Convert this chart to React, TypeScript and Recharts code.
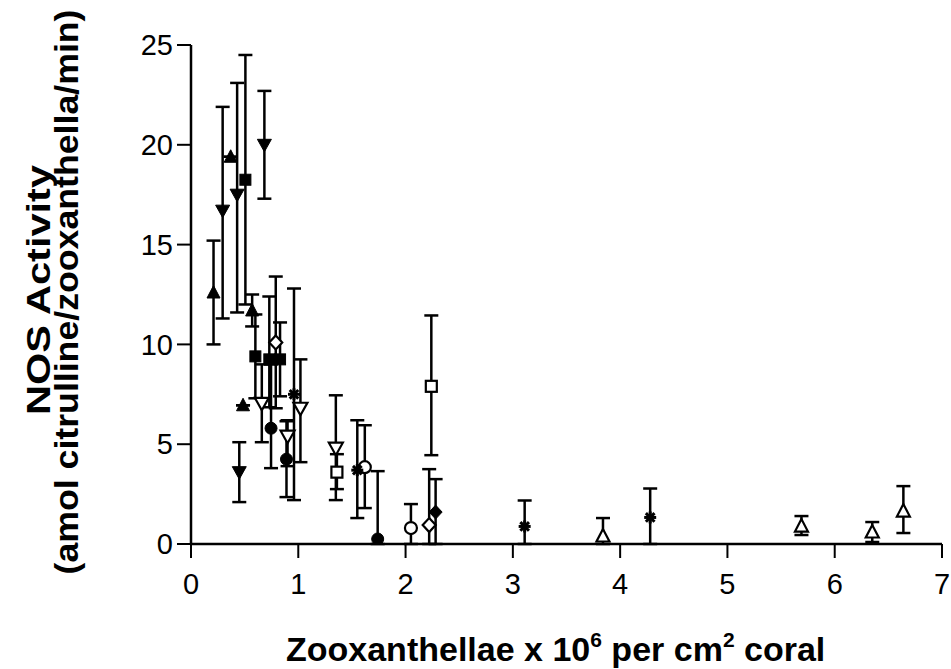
import React from "react";
import { ErrorBar, Label, Scatter, ScatterChart, XAxis, YAxis } from "recharts";

// x = zooxanthellae (x10^6 / cm2), y = NOS activity, lo/hi = error
const filledUpX = [0.21, 0.37, 0.485, 0.57];
const filledUpY = [12.6, 19.4, 6.95, 11.7];
const filledUpLo = [2.6, 0, 0, 0.8];
const filledUpHi = [2.6, 0, 0, 0.8];

const filledDownX = [0.295, 0.43, 0.684, 0.45];
const filledDownY = [16.7, 17.5, 20.0, 3.6];
const filledDownLo = [5.4, 5.9, 2.7, 1.5];
const filledDownHi = [5.2, 5.6, 2.7, 1.5];

const filledSquareX = [0.507, 0.6, 0.73, 0.83];
const filledSquareY = [18.25, 9.4, 9.25, 9.25];
const filledSquareLo = [6.25, 2.1, 2.4, 1.85];
const filledSquareHi = [6.25, 2.1, 3.15, 1.85];

const filledCircleX = [0.746, 0.89, 1.74];
const filledCircleY = [5.8, 4.25, 0.25];
const filledCircleLo = [2.0, 1.9, 0.25];
const filledCircleHi = [3.2, 1.9, 3.4];

const filledDiamondX = [2.28];
const filledDiamondY = [1.6];
const filledDiamondLo = [1.6];
const filledDiamondHi = [1.65];

const openDownX = [0.66, 0.9, 1.02, 1.35];
const openDownY = [7.05, 5.4, 6.8, 4.8];
const openDownLo = [1.95, 1.5, 2.7, 2.6];
const openDownHi = [1.95, 0.8, 2.45, 2.65];

const openUpX = [3.84, 5.69, 6.35, 6.64];
const openUpY = [0.4, 0.9, 0.6, 1.65];
const openUpLo = [0.4, 0.45, 0.5, 1.1];
const openUpHi = [0.9, 0.5, 0.5, 1.25];

const openSquareX = [1.36, 2.24];
const openSquareY = [3.6, 7.9];
const openSquareLo = [0.85, 3.45];
const openSquareHi = [0.9, 3.55];

const openCircleX = [1.62, 2.05];
const openCircleY = [3.85, 0.8];
const openCircleLo = [2.05, 0.8];
const openCircleHi = [2.1, 1.2];

const openDiamondX = [0.79, 2.22];
const openDiamondY = [10.1, 0.95];
const openDiamondLo = [3.3, 0.95];
const openDiamondHi = [3.3, 2.8];

const starX = [0.96, 1.55, 3.11, 4.28];
const starY = [7.5, 3.7, 0.88, 1.33];
const starLo = [5.3, 2.4, 0.88, 1.33];
const starHi = [5.3, 2.5, 1.3, 1.45];

const xTicks = [0, 1, 2, 3, 4, 5, 6, 7];
const yTicks = [0, 5, 10, 15, 20, 25];

const FONT = "'Liberation Sans', Arial, Helvetica, sans-serif";

function rows(xs: number[], ys: number[], lo: number[], hi: number[]) {
  return xs.map((x, i) => ({ x, y: ys[i], err: [Math.min(lo[i], ys[i]), hi[i]] }));
}

type Kind =
  | "upFill"
  | "downFill"
  | "squareFill"
  | "circleFill"
  | "diamondFill"
  | "downOpen"
  | "upOpen"
  | "squareOpen"
  | "circleOpen"
  | "diamondOpen"
  | "star";

function marker(kind: Kind) {
  return (p: any) => {
    const { cx, cy } = p;
    if (cx == null || cy == null) return <g />;
    const open = kind.endsWith("Open");
    const fill = open ? "#fff" : "#000";
    const common = { fill, stroke: "#000", strokeWidth: open ? 2.2 : 1 };
    if (kind === "upFill" || kind === "upOpen") {
      return <polygon points={`${cx},${cy - 7} ${cx - 6.5},${cy + 5.5} ${cx + 6.5},${cy + 5.5}`} {...common} />;
    }
    if (kind === "downFill" || kind === "downOpen") {
      return <polygon points={`${cx},${cy + 7} ${cx - 7},${cy - 5.5} ${cx + 7},${cy - 5.5}`} {...common} />;
    }
    if (kind === "squareFill" || kind === "squareOpen") {
      return <rect x={cx - 5.5} y={cy - 5.5} width={11} height={11} {...common} />;
    }
    if (kind === "circleFill" || kind === "circleOpen") {
      return <circle cx={cx} cy={cy} r={6} {...common} />;
    }
    if (kind === "diamondFill" || kind === "diamondOpen") {
      return <polygon points={`${cx},${cy - 7} ${cx + 6.5},${cy} ${cx},${cy + 7} ${cx - 6.5},${cy}`} {...common} />;
    }
    const r = 6;
    const d = r * 0.72;
    return (
      <g stroke="#000" strokeWidth={3}>
        <line x1={cx - r} y1={cy} x2={cx + r} y2={cy} />
        <line x1={cx} y1={cy - r} x2={cx} y2={cy + r} />
        <line x1={cx - d} y1={cy - d} x2={cx + d} y2={cy + d} />
        <line x1={cx - d} y1={cy + d} x2={cx + d} y2={cy - d} />
      </g>
    );
  };
}

const series: { kind: Kind; data: { x: number; y: number; err: number[] }[] }[] = [
  { kind: "upFill", data: rows(filledUpX, filledUpY, filledUpLo, filledUpHi) },
  { kind: "downFill", data: rows(filledDownX, filledDownY, filledDownLo, filledDownHi) },
  { kind: "squareFill", data: rows(filledSquareX, filledSquareY, filledSquareLo, filledSquareHi) },
  { kind: "circleFill", data: rows(filledCircleX, filledCircleY, filledCircleLo, filledCircleHi) },
  { kind: "diamondFill", data: rows(filledDiamondX, filledDiamondY, filledDiamondLo, filledDiamondHi) },
  { kind: "downOpen", data: rows(openDownX, openDownY, openDownLo, openDownHi) },
  { kind: "upOpen", data: rows(openUpX, openUpY, openUpLo, openUpHi) },
  { kind: "squareOpen", data: rows(openSquareX, openSquareY, openSquareLo, openSquareHi) },
  { kind: "circleOpen", data: rows(openCircleX, openCircleY, openCircleLo, openCircleHi) },
  { kind: "diamondOpen", data: rows(openDiamondX, openDiamondY, openDiamondLo, openDiamondHi) },
  { kind: "star", data: rows(starX, starY, starLo, starHi) },
];

const tickStyle = { fill: "#000", fontSize: 29, fontFamily: FONT };
const axisStroke = { stroke: "#000", strokeWidth: 2.5 };

function XTitle() {
  return (
    <text x={286} y={661} textAnchor="start" fontFamily={FONT} fontWeight="bold" fontSize={34} fill="#000">
      Zooxanthellae x 10
      <tspan fontSize={21} dy={-14}>6</tspan>
      <tspan dy={14}> per cm</tspan>
      <tspan fontSize={21} dy={-14}>2</tspan>
      <tspan dy={14}> coral</tspan>
    </text>
  );
}

function YTitle() {
  return (
    <g fontFamily={FONT} fontWeight="bold" fontSize={33} fill="#000" textAnchor="middle">
      <text transform="translate(50,290) rotate(-90)" textLength={250} lengthAdjust="spacingAndGlyphs">
        NOS Activity
      </text>
      <text transform="translate(78,292) rotate(-90)" textLength={565} lengthAdjust="spacingAndGlyphs">
        (amol citrulline/zooxanthella/min)
      </text>
    </g>
  );
}

export default function App() {
  return (
    <div style={{ position: "absolute", left: 0, top: 0, background: "#fff" }}>
      <ScatterChart width={951} height={669} margin={{ top: 45, right: 9, bottom: 65, left: 0 }}>
        <XAxis
          type="number"
          dataKey="x"
          domain={[0, 7]}
          ticks={xTicks}
          height={60}
          tick={tickStyle}
          tickSize={14}
          tickMargin={15}
          axisLine={axisStroke}
          tickLine={{ stroke: "#000", strokeWidth: 2 }}
          allowDataOverflow
        >
          <Label content={() => <XTitle />} />
        </XAxis>
        <YAxis
          type="number"
          dataKey="y"
          domain={[0, 25]}
          ticks={yTicks}
          width={191}
          tick={tickStyle}
          tickSize={14}
          tickMargin={4}
          axisLine={axisStroke}
          tickLine={{ stroke: "#000", strokeWidth: 2 }}
          allowDataOverflow
        >
          <Label content={() => <YTitle />} />
        </YAxis>
        {series.map((s) => (
          <Scatter key={s.kind} data={s.data} shape={marker(s.kind)} isAnimationActive={false}>
            <ErrorBar dataKey="err" direction="y" width={7} stroke="#000" strokeWidth={2.5} />
          </Scatter>
        ))}
      </ScatterChart>
    </div>
  );
}
